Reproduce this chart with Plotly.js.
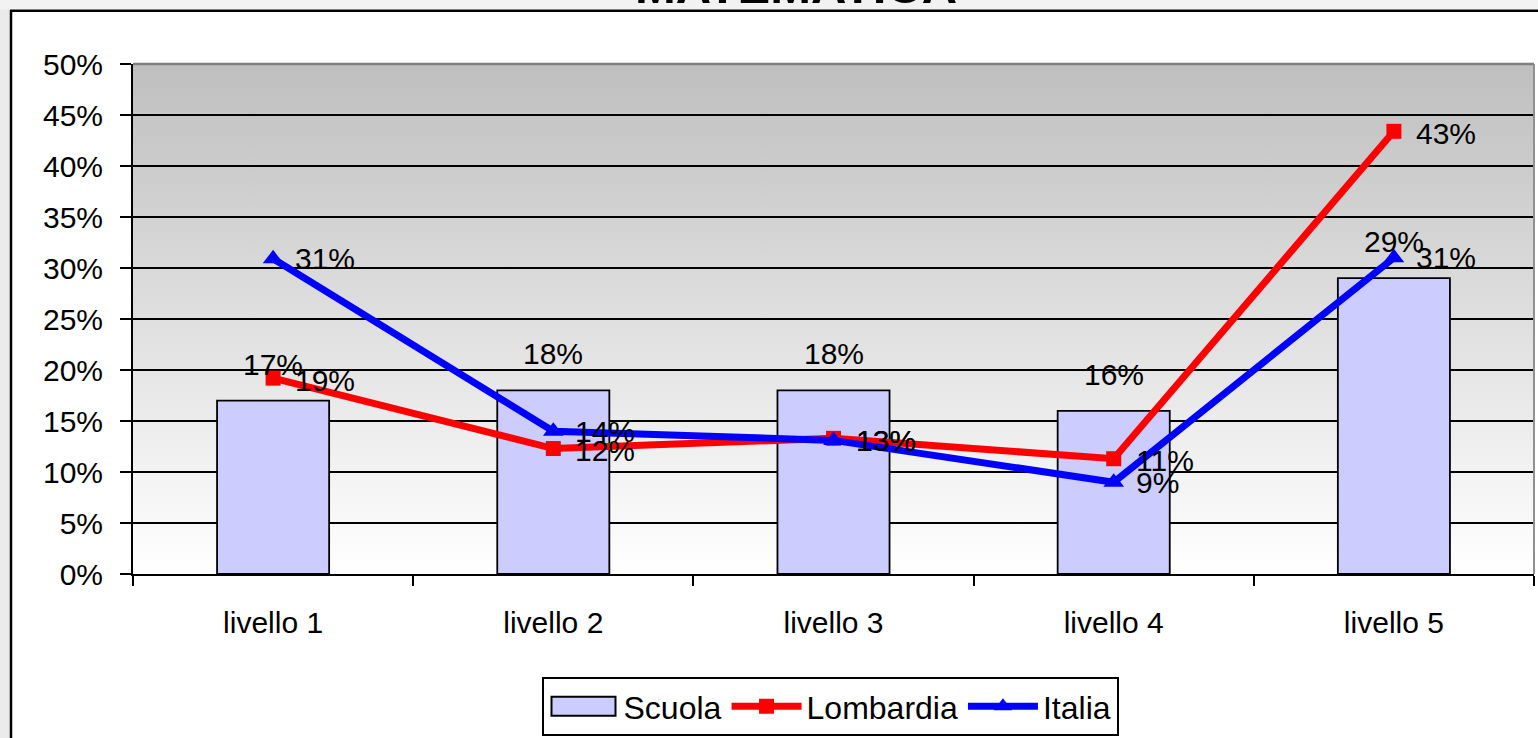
<!DOCTYPE html>
<html>
<head>
<meta charset="utf-8">
<script src="https://cdn.plot.ly/plotly-3.0.1.min.js"></script>
<style>
  html, body { margin: 0; padding: 0; background: #ffffff; }
  #chart { width: 1538px; height: 738px; }
</style>
</head>
<body>
<div id="chart"></div>
<script>
// ---- data ----
const categories = ['livello 1', 'livello 2', 'livello 3', 'livello 4', 'livello 5'];
const scuola = [17, 18, 18, 16, 29];
const lombardia = [19.2, 12.3, 13.3, 11.3, 43.4];
const italia = [30.9, 14.0, 13.1, 9.0, 31.0];
const yTicks = [0, 5, 10, 15, 20, 25, 30, 35, 40, 45, 50];
const seriesNames = ['Scuola', 'Lombardia', 'Italia'];
const chartTitle = 'MATEMATICA';

// ---- geometry helpers (page pixels -> paper coords) ----
const W = 1538, H = 738;
const M = {l: 133, r: 4, t: 64, b: 164};
const PW = W - M.l - M.r, PH = H - M.t - M.b;
const px = x => (x - M.l) / PW;
const py = y => (H - M.b - y) / PH;

const FONT = 'Liberation Sans, Arial, sans-serif';

const traces = [
  {
    type: 'bar', name: seriesNames[0], x: categories, y: scuola,
    width: 0.4,
    marker: {color: '#ccccff', line: {color: '#000000', width: 1.8}},
    hoverinfo: 'skip'
  },
  {
    type: 'scatter', mode: 'lines+markers', name: seriesNames[1], x: categories, y: lombardia,
    line: {color: '#ff0000', width: 7},
    marker: {symbol: 'square', size: 15, color: '#ff0000'},
    hoverinfo: 'skip'
  },
  {
    type: 'scatter', mode: 'lines+markers', name: seriesNames[2], x: categories, y: italia,
    line: {color: '#0000ff', width: 7},
    marker: {symbol: 'triangle-up', size: 18, color: '#0000ff'},
    hoverinfo: 'skip'
  }
];

const annotations = [];
const lbl = v => Math.round(v) + '%';
categories.forEach((c, i) => {
  annotations.push({xref: 'x', yref: 'y', x: c, y: scuola[i], text: lbl(scuola[i]),
    showarrow: false, xanchor: 'center', yanchor: 'bottom', yshift: 18,
    font: {family: FONT, size: 30, color: '#000'}});
  annotations.push({xref: 'x', yref: 'y', x: c, y: lombardia[i], text: lbl(lombardia[i]),
    showarrow: false, xanchor: 'left', yanchor: 'middle', xshift: 20, yshift: -2,
    font: {family: FONT, size: 30, color: '#000'}});
  annotations.push({xref: 'x', yref: 'y', x: c, y: italia[i], text: lbl(italia[i]),
    showarrow: false, xanchor: 'left', yanchor: 'middle', xshift: 20,
    font: {family: FONT, size: 30, color: '#000'}});
});
// chart title (mostly cut off at the top of the picture)
annotations.push({xref: 'paper', yref: 'paper', x: px(796), y: py(15), text: '<b>' + chartTitle + '</b>',
  showarrow: false, xanchor: 'center', yanchor: 'bottom',
  font: {family: FONT, size: 49, color: '#000'}});

const gradSvg = "<svg xmlns='http://www.w3.org/2000/svg' width='10' height='100' viewBox='0 0 10 100' preserveAspectRatio='none'>" +
  "<defs><linearGradient id='g' x1='0' y1='0' x2='0' y2='1'>" +
  "<stop offset='0' stop-color='#bfbfbf'/><stop offset='1' stop-color='#ffffff'/>" +
  "</linearGradient></defs><rect x='0' y='0' width='10' height='100' fill='url(#g)'/></svg>";
const gradUri = 'data:image/svg+xml;charset=utf-8,' + encodeURIComponent(gradSvg);

const shapes = [
  // outer gray strips
  {type: 'rect', xref: 'paper', yref: 'paper', x0: px(0), x1: px(10), y0: py(H), y1: py(0),
    fillcolor: '#ebebeb', line: {width: 0}, layer: 'below'},
  {type: 'rect', xref: 'paper', yref: 'paper', x0: px(0), x1: px(W), y0: py(9.5), y1: py(0),
    fillcolor: '#f2f2f2', line: {width: 0}, layer: 'below'},
  // chart border
  {type: 'line', xref: 'paper', yref: 'paper', x0: px(11), x1: px(11), y0: py(10), y1: py(H),
    line: {color: '#000', width: 2.5}, layer: 'below'},
  {type: 'line', xref: 'paper', yref: 'paper', x0: px(10), x1: px(W), y0: py(10.7), y1: py(10.7),
    line: {color: '#000', width: 2.5}, layer: 'below'},
  // plot-area border (gray top & right)
  {type: 'line', xref: 'paper', yref: 'paper', x0: 0, x1: 1, y0: 1, y1: 1,
    line: {color: '#808080', width: 2.5}, layer: 'above'},
  {type: 'line', xref: 'paper', yref: 'paper', x0: 1, x1: 1, y0: 0, y1: 1,
    line: {color: '#909090', width: 2}, layer: 'above'}
];

const layout = {
  width: W, height: H,
  margin: {l: M.l, r: M.r, t: M.t, b: M.b, pad: 0, autoexpand: false},
  paper_bgcolor: '#ffffff',
  plot_bgcolor: 'rgba(0,0,0,0)',
  font: {family: FONT, size: 30, color: '#000'},
  showlegend: true,
  xaxis: {
    type: 'category', automargin: false,
    showline: true, linecolor: '#000', linewidth: 2,
    ticks: 'outside', tickson: 'boundaries', ticklen: 10, tickwidth: 2, tickcolor: '#000',
    showgrid: false, zeroline: false,
    tickfont: {family: FONT, size: 30, color: '#000'},
    ticklabelstandoff: 21
  },
  yaxis: {
    range: [0, 50], tickvals: yTicks, ticktext: yTicks.map(v => v + '%'), automargin: false,
    showline: true, linecolor: '#000', linewidth: 2,
    ticks: 'outside', ticklen: 11, tickwidth: 2, tickcolor: '#000',
    showgrid: true, gridcolor: '#000', gridwidth: 2, zeroline: false,
    tickfont: {family: FONT, size: 30, color: '#000'},
    ticklabelstandoff: 11
  },
  legend: {
    orientation: 'h', x: px(830), xanchor: 'center', y: py(677), yanchor: 'top',
    bgcolor: '#ffffff', bordercolor: '#000', borderwidth: 2,
    font: {family: FONT, size: 32, color: '#000'},
    itemwidth: 70, traceorder: 'normal', tracegroupgap: 0
  },
  images: [{
    source: gradUri, xref: 'paper', yref: 'paper', x: 0, y: 1, sizex: 1, sizey: 1,
    xanchor: 'left', yanchor: 'top', sizing: 'stretch', layer: 'below'
  }],
  shapes: shapes,
  annotations: annotations,
  hovermode: false
};

Plotly.newPlot('chart', traces, layout, {staticPlot: true, displayModeBar: false}).then(gd => {
  // widen the bar swatch in the legend to look like the original wide rectangle
  const pts = gd.querySelectorAll('.legend .traces');
  if (pts.length) {
    const p = pts[0].querySelector('.legendpoints path');
    if (p) {
      p.setAttribute('d', 'M-32,9.5H32V-9.5H-32Z');
      p.style.strokeWidth = '2px';
      p.style.stroke = '#000';
    }
  }
});
</script>
</body>
</html>
